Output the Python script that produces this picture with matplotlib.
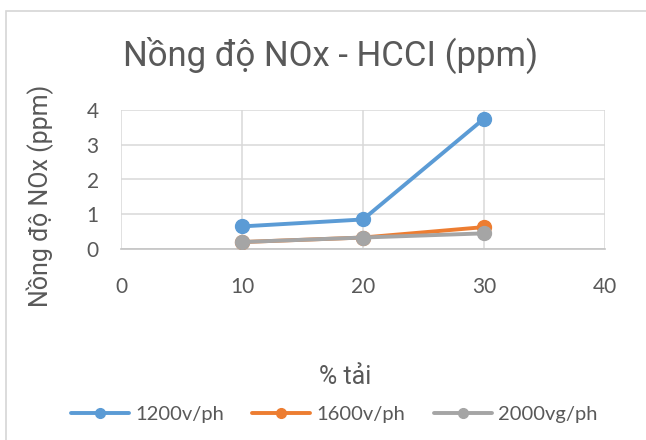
import matplotlib
matplotlib.use("Agg")
import matplotlib.pyplot as plt
from matplotlib.patches import Rectangle

# Engine load (%) and NOx concentration (ppm) per engine speed
load_pct = [10, 20, 30]
nox_1200 = [0.65, 0.85, 3.75]
nox_1600 = [0.20, 0.33, 0.63]
nox_2000 = [0.20, 0.33, 0.45]
series_labels = ["1200v/ph", "1600v/ph", "2000vg/ph"]
x_ticks = [0, 10, 20, 30, 40]
y_ticks = [0, 1, 2, 3, 4]

FONT = ["Lato", "DejaVu Sans"]
TITLE_FONT = ["Roboto", "DejaVu Sans"]
TXT = "#595959"
GRID = "#D9D9D9"
plt.rcParams["font.family"] = FONT

W, H = 646, 440
fig = plt.figure(figsize=(W / 100, H / 100), dpi=100)
fig.patch.set_facecolor("white")

# chart frame
fig.patches.append(Rectangle((6 / W, -0.05), 1.2, 1 - 11.5 / H + 0.05,
                             transform=fig.transFigure, fill=False,
                             edgecolor="#D6D6D6", lw=1.2, zorder=0))

ax = fig.add_axes([121 / W, 1 - 249 / H, (605 - 121) / W, (249 - 110) / H])
colors = ["#5B9BD5", "#ED7D31", "#A5A5A5"]
for vals, c, lab in zip([nox_1200, nox_1600, nox_2000], colors, series_labels):
    ax.plot(load_pct, vals, color=c, lw=2.8, marker="o", markersize=10,
            label=lab, zorder=3, solid_capstyle="round")

ax.set_xlim(0, 40)
ax.set_ylim(0, 4)
ax.set_xticks(x_ticks)
ax.set_yticks(y_ticks)
ax.grid(True, color=GRID, lw=1.1, zorder=0)
for s in ["top", "right", "left"]:
    ax.spines[s].set_visible(False)
ax.spines["bottom"].set_color("#C4C4C4")
ax.spines["bottom"].set_linewidth(1.2)
ax.tick_params(axis="both", length=0, colors=TXT, labelsize=15)
ax.tick_params(axis="y", pad=16)
ax.tick_params(axis="x", pad=20)
ax.set_axisbelow(True)

fig.text(331 / W, 1 - 55 / H, "Nồng độ NOx - HCCI (ppm)", ha="center",
         va="center", fontsize=25, color=TXT, family=TITLE_FONT)
fig.text(40 / W, 1 - 196 / H, "Nồng độ NOx (ppm)", ha="center", va="center",
         rotation=90, fontsize=18, color=TXT, family=TITLE_FONT)
fig.text(345 / W, 1 - 377 / H, "% tải", ha="center", va="center",
         fontsize=18, color=TXT, family=TITLE_FONT)

handles, labels = ax.get_legend_handles_labels()
leg = fig.legend(handles, labels, loc="center", ncol=3, frameon=False,
                 bbox_to_anchor=(334 / W, 1 - 414 / H), fontsize=14.5,
                 handlelength=2.9, handletextpad=0.3, columnspacing=1.4,
                 markerscale=0.7)
for t in leg.get_texts():
    t.set_color(TXT)

fig.savefig("out.png", dpi=100, facecolor="white")
